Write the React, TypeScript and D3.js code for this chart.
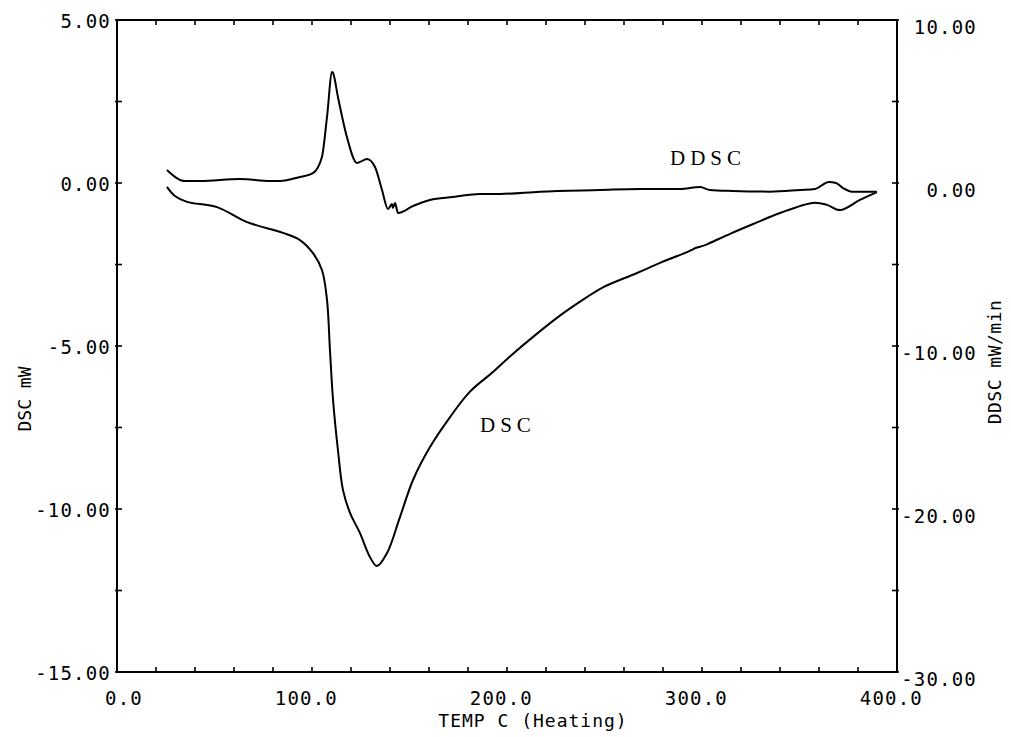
import React from "react";
import * as d3 from "d3";

// Temperature (°C) and DSC (mW, left axis)
const dscTemp = [25.6, 29.7, 35.9, 51.3, 66.7, 85.1, 93.8, 100.5, 105.1, 107.7, 109.2, 110.8, 113.3, 115.9, 119.5, 124.6, 129.7, 133.3, 138.5, 145.1, 151.8, 160.5, 170.8, 181.0, 192.8, 201.5, 215.4, 228.7, 241.0, 249.2, 266.7, 278.5, 292.3, 297.4, 300.5, 304.1, 314.4, 327.0, 340.0, 356.9, 364.1, 370.8, 381.0, 389.7];
const dscValue = [-0.12, -0.4, -0.58, -0.74, -1.2, -1.53, -1.75, -2.15, -2.67, -3.59, -5.12, -6.66, -8.19, -9.42, -10.12, -10.74, -11.47, -11.75, -11.35, -10.25, -9.11, -8.1, -7.18, -6.4, -5.8, -5.32, -4.62, -4.0, -3.5, -3.2, -2.76, -2.45, -2.12, -1.98, -1.93, -1.84, -1.56, -1.24, -0.92, -0.61, -0.67, -0.83, -0.52, -0.28];

// Temperature (°C) and DDSC (mW/min, right axis)
const ddscTemp = [25.6, 34.9, 42.6, 63.1, 78.5, 83.6, 93.8, 100.5, 105.1, 107.7, 110.3, 110.8, 113.3, 117.9, 123.1, 128.2, 132.3, 135.9, 139.0, 141.0, 141.5, 142.6, 144.1, 151.8, 160.5, 172.3, 186.2, 196.4, 216.9, 247.7, 268.2, 288.7, 299.0, 304.1, 315.9, 334.9, 350.3, 357.9, 365.1, 368.7, 372.3, 376.9, 389.7];
const ddscValue = [0.8, 0.12, 0.12, 0.25, 0.12, 0.12, 0.37, 0.61, 1.6, 4.05, 6.81, 6.75, 5.28, 2.82, 1.23, 1.47, 0.98, -0.43, -1.6, -1.29, -1.53, -1.23, -1.84, -1.41, -1.04, -0.86, -0.67, -0.67, -0.53, -0.43, -0.37, -0.37, -0.25, -0.43, -0.49, -0.53, -0.43, -0.37, 0.06, 0.0, -0.31, -0.53, -0.53];

const xTickLabels = [0, 100, 200, 300, 400];
const leftTickLabels = [5, 0, -5, -10, -15];
const rightTickLabels = [10, 0, -10, -20, -30];

const W = 1011;
const H = 737;
const L = 117, R = 897, T = 20, B = 672;

export default function App() {
  const x = d3.scaleLinear().domain([0, 400]).range([L, R]);
  const yL = d3.scaleLinear().domain([-15, 5]).range([B, T]);
  const yR = d3.scaleLinear().domain([-30, 10]).range([B, T]);

  const dscPts: [number, number][] = dscTemp.map((t, i) => [x(t), yL(dscValue[i])]);
  const ddscPts: [number, number][] = ddscTemp.map((t, i) => [x(t), yR(ddscValue[i])]);
  const dscLine = d3.line().curve(d3.curveCatmullRom.alpha(0.5));
  const ddscLine = d3.line().curve(d3.curveMonotoneX);

  const xMinor = d3.range(0, 401, 20);
  const yMinorL = d3.range(-15, 5.01, 2.5);
  const mono = "'DejaVu Sans Mono', monospace";
  const tickLen = 5;

  return (
    <svg width={W} height={H} style={{ position: "absolute", left: 0, top: 0, background: "#fff" }}>
      <rect x={0} y={0} width={W} height={H} fill="#fff" />
      {/* frame */}
      <rect x={L} y={T} width={R - L} height={B - T} fill="none" stroke="#000" strokeWidth={2} />
      {/* x ticks bottom & top */}
      {xMinor.map((v) => (
        <g key={"xt" + v}>
          <line x1={x(v)} x2={x(v)} y1={B} y2={B - tickLen} stroke="#000" strokeWidth={1.6} />
          <line x1={x(v)} x2={x(v)} y1={T} y2={T + tickLen} stroke="#000" strokeWidth={1.6} />
        </g>
      ))}
      {/* y ticks left & right */}
      {yMinorL.map((v) => (
        <g key={"yt" + v}>
          <line x1={L - 2} x2={L + tickLen} y1={yL(v)} y2={yL(v)} stroke="#000" strokeWidth={1.6} />
          <line x1={R + 2} x2={R - tickLen} y1={yL(v)} y2={yL(v)} stroke="#000" strokeWidth={1.6} />
        </g>
      ))}
      {/* x tick labels */}
      {xTickLabels.map((v) => (
        <text key={"xl" + v} x={x(v) + 26} y={705} textAnchor="end" fontFamily={mono} fontSize={19} letterSpacing={1.2} fill="#000">
          {v.toFixed(1)}
        </text>
      ))}
      {/* left labels */}
      {leftTickLabels.map((v) => (
        <text key={"ll" + v} x={111} y={yL(v) + 8} textAnchor="end" fontFamily={mono} fontSize={19} letterSpacing={1.2} fill="#000">
          {v.toFixed(2)}
        </text>
      ))}
      {/* right labels */}
      {rightTickLabels.map((v) => (
        <text key={"rl" + v} x={977} y={yR(v) + 14} textAnchor="end" fontFamily={mono} fontSize={19} letterSpacing={1.2} fill="#000">
          {v.toFixed(2)}
        </text>
      ))}
      {/* axis titles */}
      <text x={533} y={727} textAnchor="middle" fontFamily={mono} fontSize={18} letterSpacing={1} fill="#000">
        TEMP C (Heating)
      </text>
      <text transform="translate(31,399) rotate(-90)" textAnchor="middle" fontFamily={mono} fontSize={18} fill="#000">
        DSC mW
      </text>
      <text transform="translate(1001,362) rotate(-90)" textAnchor="middle" fontFamily={mono} fontSize={18} letterSpacing={0.5} fill="#000">
        DDSC mW/min
      </text>
      {/* curves */}
      <path d={dscLine(dscPts) || ""} fill="none" stroke="#000" strokeWidth={2} strokeLinejoin="round" />
      <path d={ddscLine(ddscPts) || ""} fill="none" stroke="#000" strokeWidth={2} strokeLinejoin="round" />
      {/* series labels */}
      <text x={670} y={165} fontFamily="'Liberation Serif', serif" fontSize={21} letterSpacing={5} fill="#000">
        DDSC
      </text>
      <text x={480} y={432} fontFamily="'Liberation Serif', serif" fontSize={21} letterSpacing={5} fill="#000">
        DSC
      </text>
    </svg>
  );
}
